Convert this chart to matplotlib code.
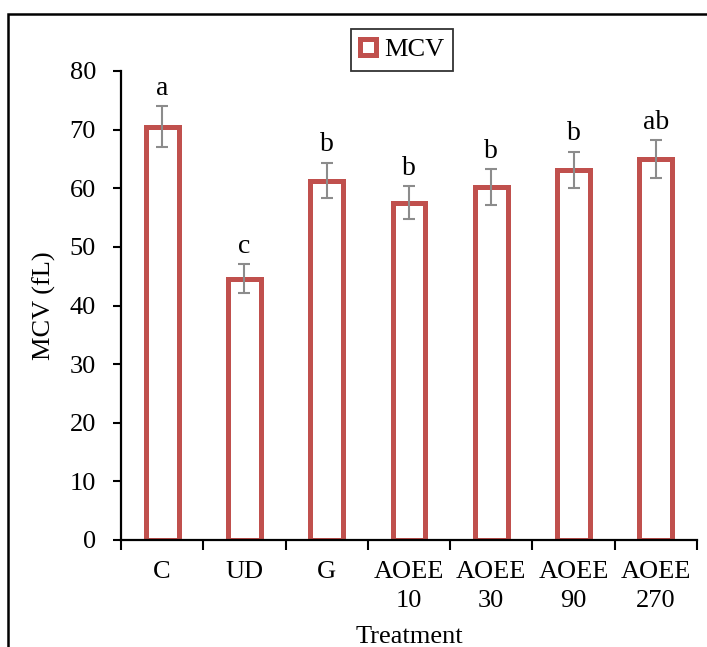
import matplotlib.pyplot as plt
import matplotlib.patches as mpatches
import numpy as np

plt.rcParams['font.family'] = ['Liberation Serif', 'DejaVu Serif']

# data
treatments = ["C", "UD", "G", "AOEE\n10", "AOEE\n30", "AOEE\n90", "AOEE\n270"]
mcv = [70.5, 44.6, 61.3, 57.5, 60.2, 63.1, 65.0]
mcv_err = [3.5, 2.4, 3.0, 2.8, 3.0, 3.1, 3.2]
letters = ["a", "c", "b", "b", "b", "b", "ab"]

bar_red = "#C0504D"

fig = plt.figure(figsize=(7.07, 6.47), dpi=100)
ax = fig.add_axes([121 / 707, 1 - 540 / 647, (697 - 121) / 707, (540 - 71) / 647])

x = np.arange(len(treatments))
ax.bar(x, mcv, width=0.4, facecolor="white", edgecolor=bar_red, linewidth=3.6, zorder=2)
ax.errorbar(x, mcv, yerr=mcv_err, fmt="none", ecolor="#8C8C8C", elinewidth=1.5,
            capsize=4, capthick=1.5, zorder=3)

for xi, v, e, lab in zip(x, mcv, mcv_err, letters):
    ax.annotate(lab, (xi, v + e), xytext=(0, 4), textcoords="offset points",
                ha="center", va="bottom", fontsize=20)

ax.set_xlim(-0.5, len(treatments) - 0.5)
ax.set_ylim(0, 80)
ax.set_yticks(range(0, 81, 10))
ax.set_xticks(x)
ax.set_xticklabels(treatments, fontsize=19, linespacing=1.45)
ax.set_xticks(np.arange(-0.5, len(treatments)), minor=True)
ax.tick_params(axis="x", which="major", length=0, pad=15)
ax.tick_params(axis="x", which="minor", length=7, width=1.5, direction="out")
ax.tick_params(axis="y", length=6, width=1.5, labelsize=19, pad=12)

for s in ["top", "right"]:
    ax.spines[s].set_visible(False)
for s in ["left", "bottom"]:
    ax.spines[s].set_linewidth(1.6)

ax.set_ylabel("MCV (fL)", fontsize=19, labelpad=10)
ax.set_xlabel("Treatment", fontsize=19, labelpad=10)

handle = mpatches.Patch(facecolor="white", edgecolor=bar_red, linewidth=3.6)
fig.legend([handle], ["MCV"], loc="center", bbox_to_anchor=(402 / 707, 1 - 50 / 647),
           fontsize=19, frameon=True, fancybox=False, edgecolor="black",
           handlelength=0.6, handleheight=0.6, handletextpad=0.3,
           borderpad=0.35, borderaxespad=0).get_frame().set_linewidth(1.3)

# outer border of the figure panel
frame = mpatches.Rectangle((8 / 707, -0.1), 1.2, 1 - 14 / 647 + 0.1, transform=fig.transFigure,
                           fill=False, edgecolor="black", linewidth=1.8, clip_on=False)
fig.patches.append(frame)

plt.savefig("out.png", dpi=100)
